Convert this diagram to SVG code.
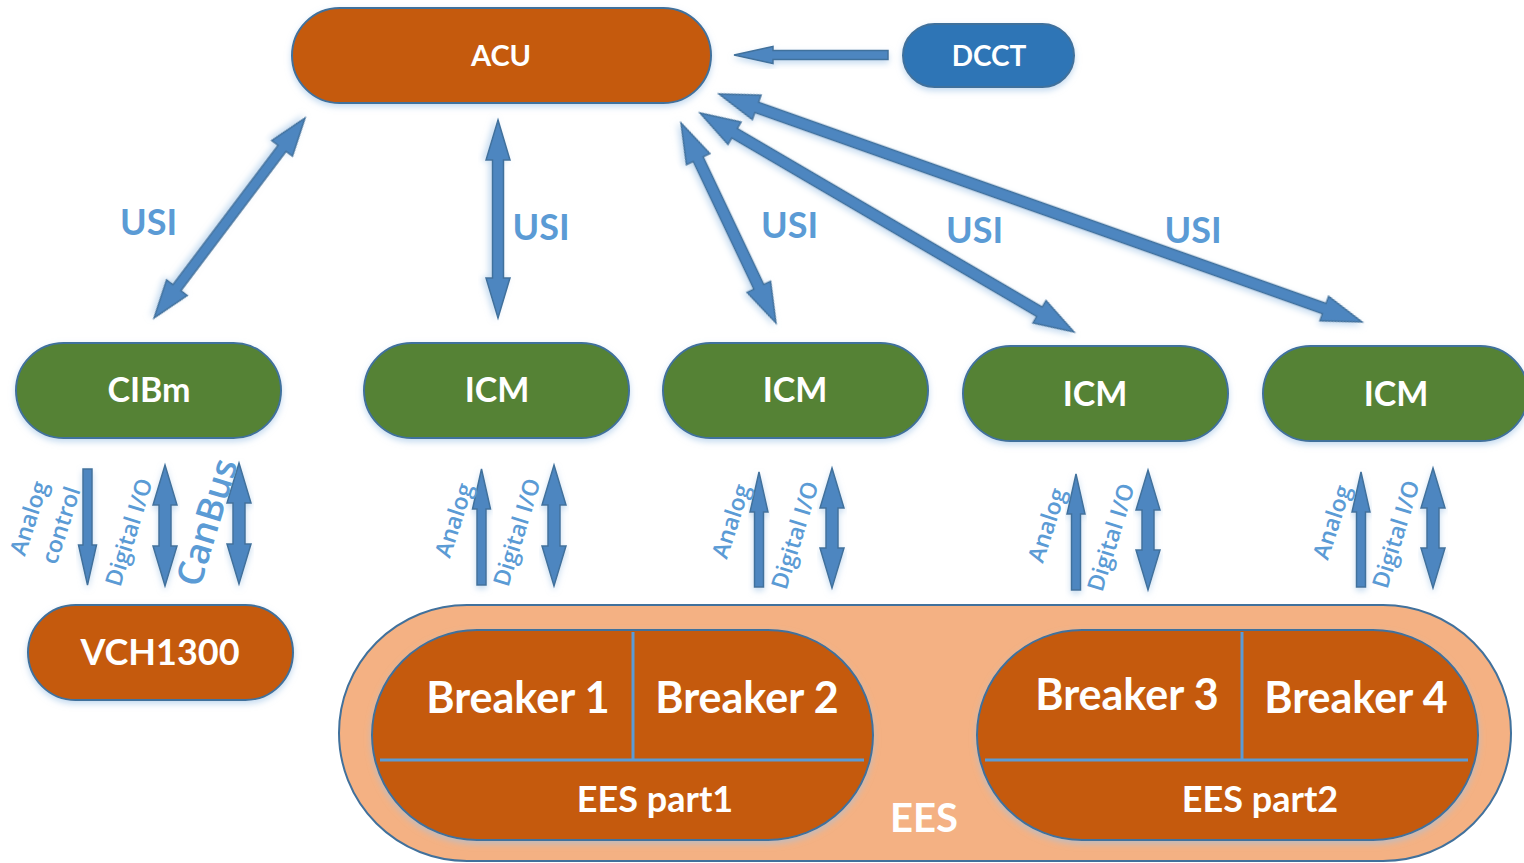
<svg xmlns="http://www.w3.org/2000/svg" width="1524" height="863" viewBox="0 0 1524 863">
<defs>
<filter id="sh" x="-10%" y="-20%" width="120%" height="150%">
<feDropShadow dx="0" dy="3" stdDeviation="3" flood-color="#9DC3E6" flood-opacity="0.6"/>
</filter>
<style>
.node{stroke:#41719C;stroke-width:2;filter:url(#sh)}
.or{fill:#C55A11}
.gr{fill:#548235}
.bl{fill:#2E75B6}
.ees{fill:#F4B183;stroke:#41719C;stroke-width:2}
.t{font-family:Lato,"Open Sans","DejaVu Sans",sans-serif;font-weight:bold;fill:#FFFFFF;text-anchor:middle}
.lbl{font-family:Lato,"Open Sans","DejaVu Sans",sans-serif;fill:#5B9BD5;text-anchor:middle}
.usi{font-weight:bold;font-size:36px}
.rot{font-family:"Open Sans",Lato,sans-serif;font-size:23px;font-weight:600;dominant-baseline:central}
.big{font-size:36px;font-weight:600}
.arr{fill:#4E86C0;stroke:#41719C;stroke-width:1.5;stroke-linejoin:miter;filter:url(#sh)}
.sep{stroke:#5B9BD5;stroke-width:3;fill:none}
</style>
</defs>
<rect width="1524" height="863" fill="#FFFFFF"/>

<g id="EES">
<rect class="ees" x="339" y="605" width="1172" height="256" rx="128" ry="128"/>
<text class="t" x="924" y="832" font-size="40">EES</text>
</g>
<g id="EES_part1">
<rect class="node or" x="372" y="630" width="501" height="210" rx="105" ry="105"/>
<line class="sep" x1="633" y1="632" x2="633" y2="760"/>
<line class="sep" x1="380" y1="760" x2="864" y2="760"/>
<text class="t" x="518" y="713" font-size="43">Breaker 1</text>
<text class="t" x="747" y="713" font-size="43">Breaker 2</text>
<text class="t" x="655" y="812" font-size="36">EES part1</text>
</g>
<g id="EES_part2">
<rect class="node or" x="977" y="630" width="501" height="210" rx="105" ry="105"/>
<line class="sep" x1="1242" y1="632" x2="1242" y2="760"/>
<line class="sep" x1="985" y1="760" x2="1468" y2="760"/>
<text class="t" x="1127" y="710" font-size="43">Breaker 3</text>
<text class="t" x="1356" y="713" font-size="43">Breaker 4</text>
<text class="t" x="1260" y="812" font-size="36">EES part2</text>
</g>

<g id="ACU">
<rect class="node or" x="292" y="8" width="419" height="95" rx="47.5" ry="47.5"/>
<text class="t" x="501" y="66" font-size="29">ACU</text>
</g>
<g id="DCCT">
<rect class="node bl" x="903" y="24" width="171" height="63" rx="31.5" ry="31.5"/>
<text class="t" x="989" y="66" font-size="28">DCCT</text>
</g>
<g id="CIBm">
<rect class="node gr" x="16" y="343" width="265" height="95" rx="47.5" ry="47.5"/>
<text class="t" x="149" y="402" font-size="34">CIBm</text>
</g>
<g id="ICM1">
<rect class="node gr" x="364" y="343" width="265" height="95" rx="47.5" ry="47.5"/>
<text class="t" x="497" y="402" font-size="34">ICM</text>
</g>
<g id="ICM2">
<rect class="node gr" x="663" y="343" width="265" height="95" rx="47.5" ry="47.5"/>
<text class="t" x="795" y="402" font-size="34">ICM</text>
</g>
<g id="ICM3">
<rect class="node gr" x="963" y="346" width="265" height="95" rx="47.5" ry="47.5"/>
<text class="t" x="1095" y="406" font-size="34">ICM</text>
</g>
<g id="ICM4">
<rect class="node gr" x="1263" y="346" width="265" height="95" rx="47.5" ry="47.5"/>
<text class="t" x="1396" y="406" font-size="34">ICM</text>
</g>
<g id="VCH1300">
<rect class="node or" x="28" y="605" width="265" height="95" rx="47.5" ry="47.5"/>
<text class="t" x="160" y="665" font-size="36">VCH1300</text>
</g>

<g id="connectors">
<polygon class="arr" transform="translate(734,55)" points="0,0 39,-8.5 39,-4.5 154,-4.5 154,4.5 39,4.5 39,8.5"/>
<polygon class="arr" transform="translate(305,118) rotate(127.05)" points="0,0 38,-13 38,-5 212.6,-5 212.6,-13 250.6,0 212.6,13 212.6,5 38,5 38,13"/>
<polygon class="arr" transform="translate(498,120) rotate(90)" points="0,0 40,-12 40,-5.5 158,-5.5 158,-12 198,0 158,12 158,5.5 40,5.5 40,12"/>
<polygon class="arr" transform="translate(681,123) rotate(64.6)" points="0,0 40,-13 40,-5.5 181.4,-5.5 181.4,-13 221.4,0 181.4,13 181.4,5.5 40,5.5 40,13"/>
<polygon class="arr" transform="translate(700,113) rotate(30.35)" points="0,0 40,-13 40,-5.5 393.4,-5.5 393.4,-13 433.4,0 393.4,13 393.4,5.5 40,5.5 40,13"/>
<polygon class="arr" transform="translate(719,94) rotate(19.52)" points="0,0 40,-13 40,-5.5 642.2,-5.5 642.2,-13 682.2,0 642.2,13 642.2,5.5 40,5.5 40,13"/>

<polygon class="arr" points="83,469 92,469 92,545 96.5,545 87.5,585 78.5,545 83,545"/>
<polygon class="arr" points="165,465 177,505 171,505 171,546 177,546 165,586 153,546 159,546 159,505 153,505"/>
<polygon class="arr" points="239,463 251,503 245,503 245,544 251,544 239,584 227,544 233,544 233,503 227,503"/>

<polygon class="arr" points="481.5,469 490.5,509 486,509 486,585 477,585 477,509 472.5,509"/>
<polygon class="arr" points="554,465 566,505 560,505 560,546 566,546 554,586 542,546 548,546 548,505 542,505"/>
<polygon class="arr" points="759,472 768,512 763.5,512 763.5,587 754.5,587 754.5,512 750,512"/>
<polygon class="arr" points="832,468 844,508 838,508 838,548 844,548 832,588 820,548 826,548 826,508 820,508"/>
<polygon class="arr" points="1076,474 1085,514 1080.5,514 1080.5,590 1071.5,590 1071.5,514 1067,514"/>
<polygon class="arr" points="1148,470 1160,510 1154,510 1154,550 1160,550 1148,590 1136,550 1142,550 1142,510 1136,510"/>
<polygon class="arr" points="1361,472 1370,512 1365.5,512 1365.5,587 1356.5,587 1356.5,512 1352,512"/>
<polygon class="arr" points="1433,468 1445,508 1439,508 1439,548 1445,548 1433,588 1421,548 1427,548 1427,508 1421,508"/>

<text class="lbl usi" x="148.5" y="235">USI</text>
<text class="lbl usi" x="541" y="240">USI</text>
<text class="lbl usi" x="789.5" y="238">USI</text>
<text class="lbl usi" x="974.5" y="243">USI</text>
<text class="lbl usi" x="1193" y="243">USI</text>

<text class="lbl rot" transform="translate(28,518) rotate(-72)">Analog</text>
<text class="lbl rot" transform="translate(60,525) rotate(-72)">control</text>
<text class="lbl rot" transform="translate(128,532) rotate(-73)">Digital I/O</text>
<text class="lbl rot big" transform="translate(206,522) rotate(-73)">CanBus</text>
<text class="lbl rot" transform="translate(453,520) rotate(-72)">Analog</text>
<text class="lbl rot" transform="translate(516,532) rotate(-73)">Digital I/O</text>
<text class="lbl rot" transform="translate(730,521) rotate(-72)">Analog</text>
<text class="lbl rot" transform="translate(794,535) rotate(-73)">Digital I/O</text>
<text class="lbl rot" transform="translate(1046,525) rotate(-72)">Analog</text>
<text class="lbl rot" transform="translate(1110,537) rotate(-73)">Digital I/O</text>
<text class="lbl rot" transform="translate(1331,522) rotate(-72)">Analog</text>
<text class="lbl rot" transform="translate(1395,534) rotate(-73)">Digital I/O</text>
</g>
</svg>
